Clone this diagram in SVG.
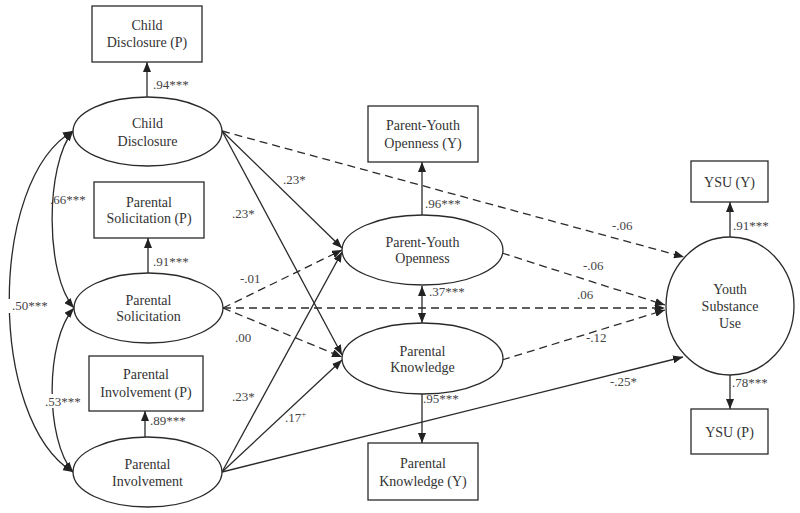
<svg xmlns="http://www.w3.org/2000/svg" width="800" height="513" viewBox="0 0 800 513">
<defs>
<style>
.n{fill:#fff;stroke:#2a2a2a;stroke-width:1.3}
.t{font-family:"Liberation Serif","Times New Roman",serif;font-size:14px;fill:#333;text-anchor:middle}
.l{font-family:"Liberation Serif","Times New Roman",serif;font-size:13px;fill:#444}
.c{fill:none;stroke:#2a2a2a;stroke-width:1.3}
.d{stroke-dasharray:8,5}
.bg{fill:#fff}
</style>
<marker id="ah" viewBox="0 0 10 8" refX="10" refY="4" markerWidth="10" markerHeight="8" orient="auto-start-reverse" markerUnits="userSpaceOnUse"><path d="M0,0 L10,4 L0,8 z" fill="#222" stroke="none"/></marker>
</defs>
<rect width="800" height="513" fill="#fff"/>
<g id="connectors">
<path class="c" d="M73,131 C-12,180 -12,420 73,472" marker-start="url(#ah)" marker-end="url(#ah)"/>
<path class="c" d="M73,131 C45,165 45,275 74,308" marker-start="url(#ah)" marker-end="url(#ah)"/>
<path class="c" d="M74,308 C45,340 45,440 73,472" marker-start="url(#ah)" marker-end="url(#ah)"/>
<line class="c" x1="147" y1="97" x2="147" y2="62" marker-end="url(#ah)"/>
<line class="c" x1="148" y1="273" x2="148" y2="238" marker-end="url(#ah)"/>
<line class="c" x1="145" y1="437" x2="145" y2="411" marker-end="url(#ah)"/>
<line class="c" x1="422" y1="215" x2="422" y2="162" marker-end="url(#ah)"/>
<line class="c" x1="422" y1="286" x2="422" y2="323" marker-start="url(#ah)" marker-end="url(#ah)"/>
<line class="c" x1="422" y1="394" x2="422" y2="443" marker-end="url(#ah)"/>
<line class="c" x1="730" y1="237" x2="730" y2="202" marker-end="url(#ah)"/>
<line class="c" x1="730" y1="375" x2="730" y2="409" marker-end="url(#ah)"/>
<line class="c d" x1="222" y1="131" x2="684" y2="257" marker-end="url(#ah)"/>
<line class="c" x1="222" y1="131" x2="342" y2="248" marker-end="url(#ah)"/>
<line class="c" x1="222" y1="131" x2="342" y2="355" marker-end="url(#ah)"/>
<line class="c d" x1="223" y1="308" x2="342" y2="250" marker-end="url(#ah)"/>
<line class="c d" x1="223" y1="308" x2="342" y2="357" marker-end="url(#ah)"/>
<line class="c d" x1="223" y1="308" x2="665" y2="308" marker-end="url(#ah)"/>
<line class="c" x1="222" y1="472" x2="342" y2="252" marker-end="url(#ah)"/>
<line class="c" x1="222" y1="472" x2="342" y2="360" marker-end="url(#ah)"/>
<line class="c" x1="222" y1="472" x2="683" y2="357" marker-end="url(#ah)"/>
<line class="c d" x1="502" y1="253" x2="665" y2="305" marker-end="url(#ah)"/>
<line class="c d" x1="502" y1="360" x2="665" y2="310" marker-end="url(#ah)"/>
</g>
<g id="labels">
<rect class="bg" x="8" y="299" width="40" height="14"/>
<rect class="bg" x="45" y="394" width="42" height="14"/>
<text class="l" x="153" y="89">.94***</text>
<text class="l" x="50" y="204">.66***</text>
<text class="l" x="232" y="218">.23*</text>
<text class="l" x="153" y="266">.91***</text>
<text class="l" x="240" y="283">-.01</text>
<text class="l" x="12" y="310">.50***</text>
<text class="l" x="235" y="342">.00</text>
<text class="l" x="45" y="406">.53***</text>
<text class="l" x="232" y="401">.23*</text>
<text class="l" x="150" y="425">.89***</text>
<text class="l" x="283" y="184">.23*</text>
<text class="l" x="425" y="208">.96***</text>
<text class="l" x="429" y="296">.37***</text>
<text class="l" x="285" y="422">.17<tspan font-size="9" dy="-5">+</tspan></text>
<text class="l" x="423" y="403">.95***</text>
<text class="l" x="612" y="230">-.06</text>
<text class="l" x="583" y="270">-.06</text>
<text class="l" x="577" y="299">.06</text>
<text class="l" x="586" y="342">-.12</text>
<text class="l" x="610" y="386">-.25*</text>
<text class="l" x="733" y="230">.91***</text>
<text class="l" x="732" y="387">.78***</text>
</g>
<g id="cd_p"><rect class="n" x="92" y="6" width="110" height="56"/><text class="t" x="147" y="30">Child</text><text class="t" x="147" y="47">Disclosure (P)</text></g>
<g id="cd"><ellipse class="n" cx="147.5" cy="131.5" rx="74.5" ry="34.5"/><text class="t" x="147.5" y="128">Child</text><text class="t" x="147.5" y="146">Disclosure</text></g>
<g id="ps_p"><rect class="n" x="94" y="182" width="110" height="56"/><text class="t" x="149" y="207">Parental</text><text class="t" x="149" y="223">Solicitation (P)</text></g>
<g id="ps"><ellipse class="n" cx="148.5" cy="308" rx="74.5" ry="35"/><text class="t" x="148.5" y="305">Parental</text><text class="t" x="148.5" y="321">Solicitation</text></g>
<g id="pi_p"><rect class="n" x="89" y="356" width="114" height="55"/><text class="t" x="146" y="379">Parental</text><text class="t" x="146" y="397">Involvement (P)</text></g>
<g id="pi"><ellipse class="n" cx="147.5" cy="472" rx="74.5" ry="35"/><text class="t" x="147.5" y="469">Parental</text><text class="t" x="147.5" y="486">Involvement</text></g>
<g id="pyo_y"><rect class="n" x="368" y="106" width="110" height="56"/><text class="t" x="423" y="130">Parent-Youth</text><text class="t" x="423" y="148">Openness (Y)</text></g>
<g id="pyo"><ellipse class="n" cx="422.5" cy="250" rx="80.5" ry="35"/><text class="t" x="422.5" y="247">Parent-Youth</text><text class="t" x="422.5" y="263">Openness</text></g>
<g id="pk"><ellipse class="n" cx="422.5" cy="358.5" rx="80.5" ry="35.5"/><text class="t" x="422.5" y="356">Parental</text><text class="t" x="422.5" y="372">Knowledge</text></g>
<g id="pk_y"><rect class="n" x="368" y="443" width="110" height="57"/><text class="t" x="423" y="468">Parental</text><text class="t" x="423" y="486">Knowledge (Y)</text></g>
<g id="ysu_y"><rect class="n" x="691" y="161" width="77" height="41"/><text class="t" x="729.5" y="187">YSU (Y)</text></g>
<g id="ysu"><ellipse class="n" cx="730" cy="306" rx="64" ry="69"/><text class="t" x="730" y="294">Youth</text><text class="t" x="730" y="311">Substance</text><text class="t" x="730" y="328">Use</text></g>
<g id="ysu_p"><rect class="n" x="691" y="409" width="77" height="45"/><text class="t" x="729.5" y="437">YSU (P)</text></g>
</svg>
